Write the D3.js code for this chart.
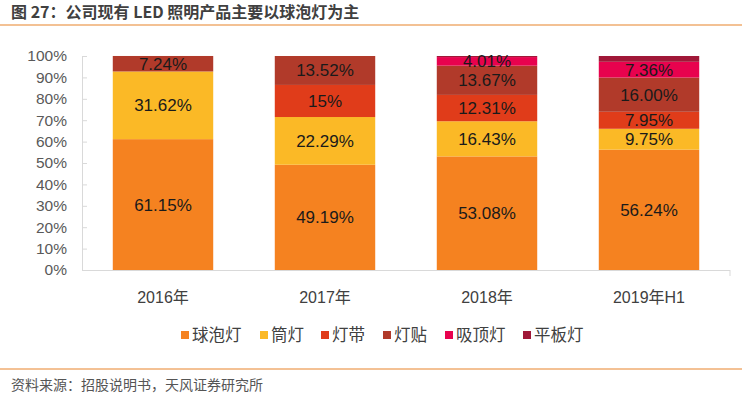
<!DOCTYPE html>
<html>
<head>
<meta charset="utf-8">
<script src="https://cdn.jsdelivr.net/npm/d3@7"></script>
<style>
  body { margin: 0; background: #fff; }
  svg text { font-family: "Liberation Sans", Arial, "Noto Sans CJK SC", sans-serif; }
</style>
</head>
<body>
<div id="chart"></div>
<script>
const years = ["2016年", "2017年", "2018年", "2019年H1"];
const seriesNames = ["球泡灯", "筒灯", "灯带", "灯贴", "吸顶灯", "平板灯"];
const bulb = [61.15, 49.19, 53.08, 56.24];
const downlight = [31.62, 22.29, 16.43, 9.75];
const strip = [0, 15, 12.31, 7.95];
const patch = [7.24, 13.52, 13.67, 16.0];
const ceiling = [0, 0, 4.01, 7.36];
const panel = [0, 0, 0.5, 2.7];
const labels = [
  ["61.15%", "31.62%", "", "7.24%", "", ""],
  ["49.19%", "22.29%", "15%", "13.52%", "", ""],
  ["53.08%", "16.43%", "12.31%", "13.67%", "4.01%", ""],
  ["56.24%", "9.75%", "7.95%", "16.00%", "7.36%", ""]
];
const yTicks = [0, 10, 20, 30, 40, 50, 60, 70, 80, 90, 100];
const colors = ["#f58220", "#fbb926", "#e03c1a", "#b13a2a", "#e8024e", "#a01838"];

const width = 742;
const height = 397;
const svg = d3.select("#chart").append("svg")
  .attr("width", width)
  .attr("height", height);

// title and rules
svg.append("text")
  .attr("x", 11).attr("y", 18)
  .attr("font-size", 16).attr("font-weight", "bold")
  .attr("fill", "#404040")
  .style("font-family", "'Noto Sans CJK SC', sans-serif")
  .text("图 27：公司现有 LED 照明产品主要以球泡灯为主");
svg.append("line").attr("x1", 0).attr("x2", width).attr("y1", 25).attr("y2", 25)
  .attr("stroke", "#e8832a").attr("stroke-width", 1.2);
svg.append("line").attr("x1", 0).attr("x2", width).attr("y1", 369).attr("y2", 369)
  .attr("stroke", "#e8832a").attr("stroke-width", 1);
svg.append("text")
  .attr("x", 11).attr("y", 390)
  .attr("font-size", 14).attr("fill", "#555")
  .style("font-family", "'Noto Sans CJK SC', sans-serif")
  .text("资料来源：招股说明书，天风证券研究所");

const x = d3.scaleBand().domain(years).range([82, 730])
  .paddingInner(0.38).paddingOuter(0.19);
const y = d3.scaleLinear().domain([0, 100]).range([270, 56]);

const rows = years.map((yr, i) => {
  const r = { year: yr, i: i };
  [bulb, downlight, strip, patch, ceiling, panel].forEach((arr, k) => { r[seriesNames[k]] = arr[i]; });
  return r;
});
const stacked = d3.stack().keys(seriesNames)(rows);

// y axis
const yAxis = svg.append("g").attr("transform", "translate(82,0)")
  .call(d3.axisLeft(y).tickValues(yTicks).tickFormat(d => d + "%").tickSize(6).tickSizeOuter(0));
yAxis.select(".domain").attr("stroke", "#d9d9d9");
yAxis.selectAll(".tick line").attr("stroke", "#d9d9d9").attr("x2", 5);
yAxis.selectAll(".tick text").attr("font-size", 15.5).attr("fill", "#595959").attr("x", -15);

// x baseline
svg.append("line").attr("x1", 82).attr("x2", 730).attr("y1", 270.5).attr("y2", 270.5)
  .attr("stroke", "#d9d9d9");
svg.append("line").attr("x1", 730).attr("x2", 730).attr("y1", 270).attr("y2", 276)
  .attr("stroke", "#d9d9d9");

// bars
const layers = svg.selectAll("g.layer").data(stacked).enter().append("g")
  .attr("class", "layer")
  .attr("fill", (d, k) => colors[k]);
layers.selectAll("rect").data(d => d).enter().append("rect")
  .attr("x", d => x(d.data.year))
  .attr("width", x.bandwidth())
  .attr("y", d => y(d[1]))
  .attr("height", d => y(d[0]) - y(d[1]));

// value labels
stacked.forEach((layer, k) => {
  layer.forEach((d, i) => {
    const t = labels[i][k];
    if (!t) return;
    svg.append("text")
      .attr("x", x(d.data.year) + x.bandwidth() / 2)
      .attr("y", (y(d[0]) + y(d[1])) / 2 + 6)
      .attr("text-anchor", "middle")
      .attr("font-size", 17)
      .attr("fill", "#1a1a1a")
      .text(t);
  });
});

// category labels
svg.selectAll("text.cat").data(years).enter().append("text")
  .attr("class", "cat")
  .attr("x", d => x(d) + x.bandwidth() / 2)
  .attr("y", 303)
  .attr("text-anchor", "middle")
  .attr("font-size", 16)
  .attr("fill", "#404040")
  .style("font-family", "'Liberation Sans', 'Noto Sans CJK SC', sans-serif")
  .text(d => d);

// legend
const legendX = [181, 260, 321, 383, 445, 523];
const legend = svg.selectAll("g.leg").data(seriesNames).enter().append("g")
  .attr("class", "leg")
  .attr("transform", (d, k) => `translate(${legendX[k]},341)`);
legend.append("rect").attr("x", 0).attr("y", -10).attr("width", 8).attr("height", 8)
  .attr("fill", (d, k) => colors[k]);
legend.append("text").attr("x", 11).attr("y", 0)
  .attr("font-size", 16.5).attr("fill", "#404040")
  .style("font-family", "'Noto Sans CJK SC', sans-serif")
  .text(d => d);
</script>
</body>
</html>
